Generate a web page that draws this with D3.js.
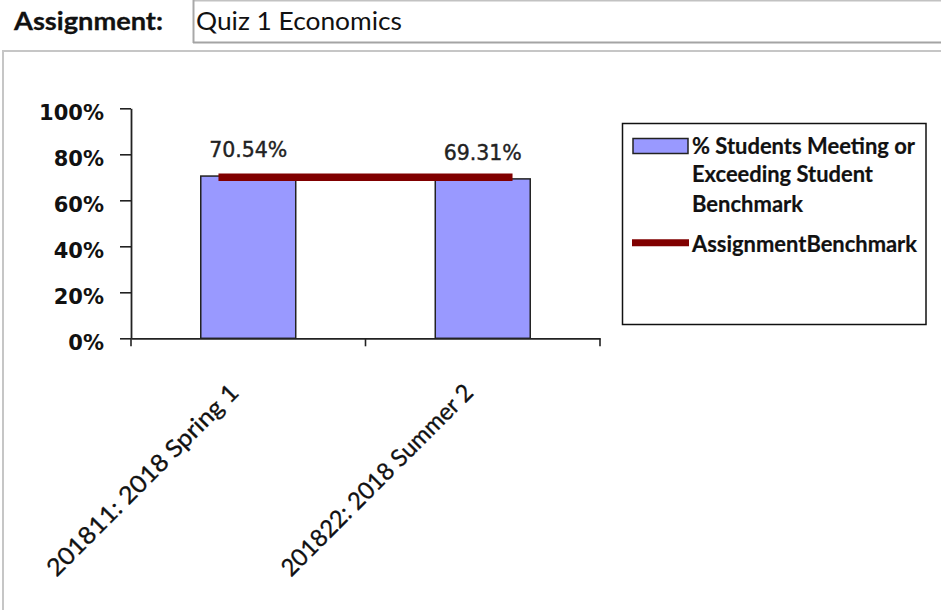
<!DOCTYPE html>
<html>
<head>
<meta charset="utf-8">
<script src="https://cdn.jsdelivr.net/npm/d3@7"></script>
<style>
  html, body { margin: 0; padding: 0; background: #fff; }
  svg { display: block; }
</style>
</head>
<body>
<svg id="chart" width="941" height="610"></svg>
<script>
// Assignment results by term
const assignmentName = "Quiz 1 Economics";
const categories = ["201811: 2018 Spring 1", "201822: 2018 Summer 2"];
const pctMeeting = [70.54, 69.31];        // % students meeting or exceeding student benchmark
const assignmentBenchmark = [70, 70];     // assignment benchmark per term
const yTickValues = [0, 20, 40, 60, 80, 100];
const legendLabels = [
  ["% Students Meeting or", "Exceeding Student", "Benchmark"],
  ["AssignmentBenchmark"]
];

const svg = d3.select("#chart");
const calibriLike = "Lato, 'Open Sans', sans-serif";
const tahomaLike = "'DejaVu Sans', Verdana, sans-serif";

// ---- header: label + read-only text box ----
svg.append("text")
  .attr("x", 14).attr("y", 30)
  .attr("font-family", calibriLike).attr("font-weight", 700)
  .attr("font-size", 25).attr("fill", "#111")
  .attr("stroke", "#111").attr("stroke-width", 0.3)
  .attr("textLength", 149).attr("lengthAdjust", "spacingAndGlyphs")
  .text("Assignment:");

svg.append("rect").attr("x", 193).attr("y", 0).attr("width", 760).attr("height", 43).attr("fill", "#fff");
svg.append("line").attr("x1", 193).attr("x2", 941).attr("y1", 0.75).attr("y2", 0.75)
  .attr("stroke", "#c2c2c2").attr("stroke-width", 1.5);
svg.append("line").attr("x1", 193.5).attr("x2", 193.5).attr("y1", 0).attr("y2", 43)
  .attr("stroke", "#a8a8a8").attr("stroke-width", 2);
svg.append("line").attr("x1", 193).attr("x2", 941).attr("y1", 42.5).attr("y2", 42.5)
  .attr("stroke", "#a4a4a4").attr("stroke-width", 2);
svg.append("text")
  .attr("x", 196).attr("y", 30)
  .attr("font-family", calibriLike).attr("font-size", 25).attr("fill", "#111")
  .attr("textLength", 206).attr("lengthAdjust", "spacingAndGlyphs")
  .text(assignmentName);

// ---- chart panel frame ----
svg.append("line").attr("x1", 2).attr("x2", 941).attr("y1", 51).attr("y2", 51)
  .attr("stroke", "#c6c6c6").attr("stroke-width", 2);
svg.append("line").attr("x1", 3).attr("x2", 3).attr("y1", 50).attr("y2", 610)
  .attr("stroke", "#c6c6c6").attr("stroke-width", 2);

// ---- scales ----
const plot = { left: 131, right: 600, top: 108.3, bottom: 338.3 };
const x = d3.scaleBand().domain(categories).range([plot.left, plot.right]).paddingInner(0).paddingOuter(0);
const y = d3.scaleLinear().domain([0, 100]).range([plot.bottom, plot.top]);
const barW = x.bandwidth() * 0.405;
const cx = d => x(d) + x.bandwidth() / 2;

const rows = categories.map((c, i) => ({ cat: c, value: pctMeeting[i], bench: assignmentBenchmark[i] }));

// ---- bars ----
svg.append("g").selectAll("rect").data(rows).join("rect")
  .attr("x", d => cx(d.cat) - barW / 2)
  .attr("y", d => y(d.value))
  .attr("width", barW)
  .attr("height", d => y(0) - y(d.value))
  .attr("fill", "#9999ff")
  .attr("stroke", "#222")
  .attr("stroke-width", 1.5);

// ---- axes ----
const yAxis = svg.append("g")
  .attr("transform", `translate(${plot.left},0)`)
  .call(d3.axisLeft(y).tickValues(yTickValues).tickFormat(d => d + "%").tickSize(11).tickSizeOuter(0));
yAxis.select(".domain").attr("stroke", "#222").attr("stroke-width", 1.8);
yAxis.selectAll(".tick line").attr("stroke", "#222").attr("stroke-width", 1.6);
yAxis.selectAll(".tick text")
  .attr("x", -27).attr("dy", 11)
  .attr("font-family", tahomaLike).attr("font-weight", 700)
  .attr("font-size", 21).attr("fill", "#111");

const xAxis = svg.append("g")
  .attr("transform", `translate(0,${plot.bottom})`)
  .call(d3.axisBottom(x).tickSize(0).tickSizeOuter(0).tickFormat(""));
xAxis.select(".domain").attr("stroke", "#222").attr("stroke-width", 1.8);
// tick marks sit on the category boundaries
const boundaries = categories.map(c => x(c)).concat([x(categories[categories.length - 1]) + x.bandwidth()]);
xAxis.selectAll("line.boundary").data(boundaries).join("line")
  .attr("class", "boundary")
  .attr("x1", d => d).attr("x2", d => d)
  .attr("y1", 0).attr("y2", 8)
  .attr("stroke", "#222").attr("stroke-width", 1.6);

// rotated category labels
svg.append("g").selectAll("text").data(categories).join("text")
  .attr("transform", d => `translate(${cx(d) - 8},394) rotate(-45)`)
  .attr("text-anchor", "end")
  .attr("font-family", calibriLike).attr("font-size", 24).attr("fill", "#111")
  .attr("stroke", "#111").attr("stroke-width", 0.3)
  .attr("textLength", 260).attr("lengthAdjust", "spacingAndGlyphs")
  .text(d => d);

// ---- benchmark line ----
const ext = x.bandwidth() * 0.127;
const benchPts = rows.map(d => [cx(d.cat), y(d.bench)]);
benchPts[0] = [benchPts[0][0] - ext, benchPts[0][1]];
benchPts[benchPts.length - 1] = [benchPts[benchPts.length - 1][0] + ext, benchPts[benchPts.length - 1][1]];
svg.append("path")
  .attr("d", d3.line()(benchPts))
  .attr("fill", "none")
  .attr("stroke", "#800000")
  .attr("stroke-width", 7.5);

// ---- value labels ----
svg.append("g").selectAll("text").data(rows).join("text")
  .attr("x", d => cx(d.cat))
  .attr("y", d => y(d.value) - 19)
  .attr("text-anchor", "middle")
  .attr("font-family", tahomaLike).attr("font-size", 20.5)
  .attr("fill", "#222").attr("stroke", "#222").attr("stroke-width", 0.4)
  .text(d => d.value.toFixed(2) + "%");

// ---- legend ----
const lg = svg.append("g");
lg.append("rect").attr("x", 622.5).attr("y", 123.5).attr("width", 303.5).attr("height", 201)
  .attr("fill", "#fff").attr("stroke", "#111").attr("stroke-width", 1.5);
lg.append("rect").attr("x", 633).attr("y", 138.5).attr("width", 55).attr("height", 15)
  .attr("fill", "#9999ff").attr("stroke", "#222").attr("stroke-width", 1.5);
lg.append("line").attr("x1", 632).attr("x2", 689).attr("y1", 242.7).attr("y2", 242.7)
  .attr("stroke", "#800000").attr("stroke-width", 7);

const legendLines = [
  { text: legendLabels[0][0], y: 153.5, len: 223 },
  { text: legendLabels[0][1], y: 182, len: 181 },
  { text: legendLabels[0][2], y: 211.5, len: 111 },
  { text: legendLabels[1][0], y: 251.5, len: 225 }
];
lg.selectAll("text.item").data(legendLines).join("text")
  .attr("class", "item")
  .attr("x", 692).attr("y", d => d.y)
  .attr("font-family", calibriLike).attr("font-weight", 700)
  .attr("font-size", 22).attr("fill", "#111")
  .attr("stroke", "#111").attr("stroke-width", 0.2)
  .attr("textLength", d => d.len).attr("lengthAdjust", "spacingAndGlyphs")
  .text(d => d.text);
</script>
</body>
</html>
